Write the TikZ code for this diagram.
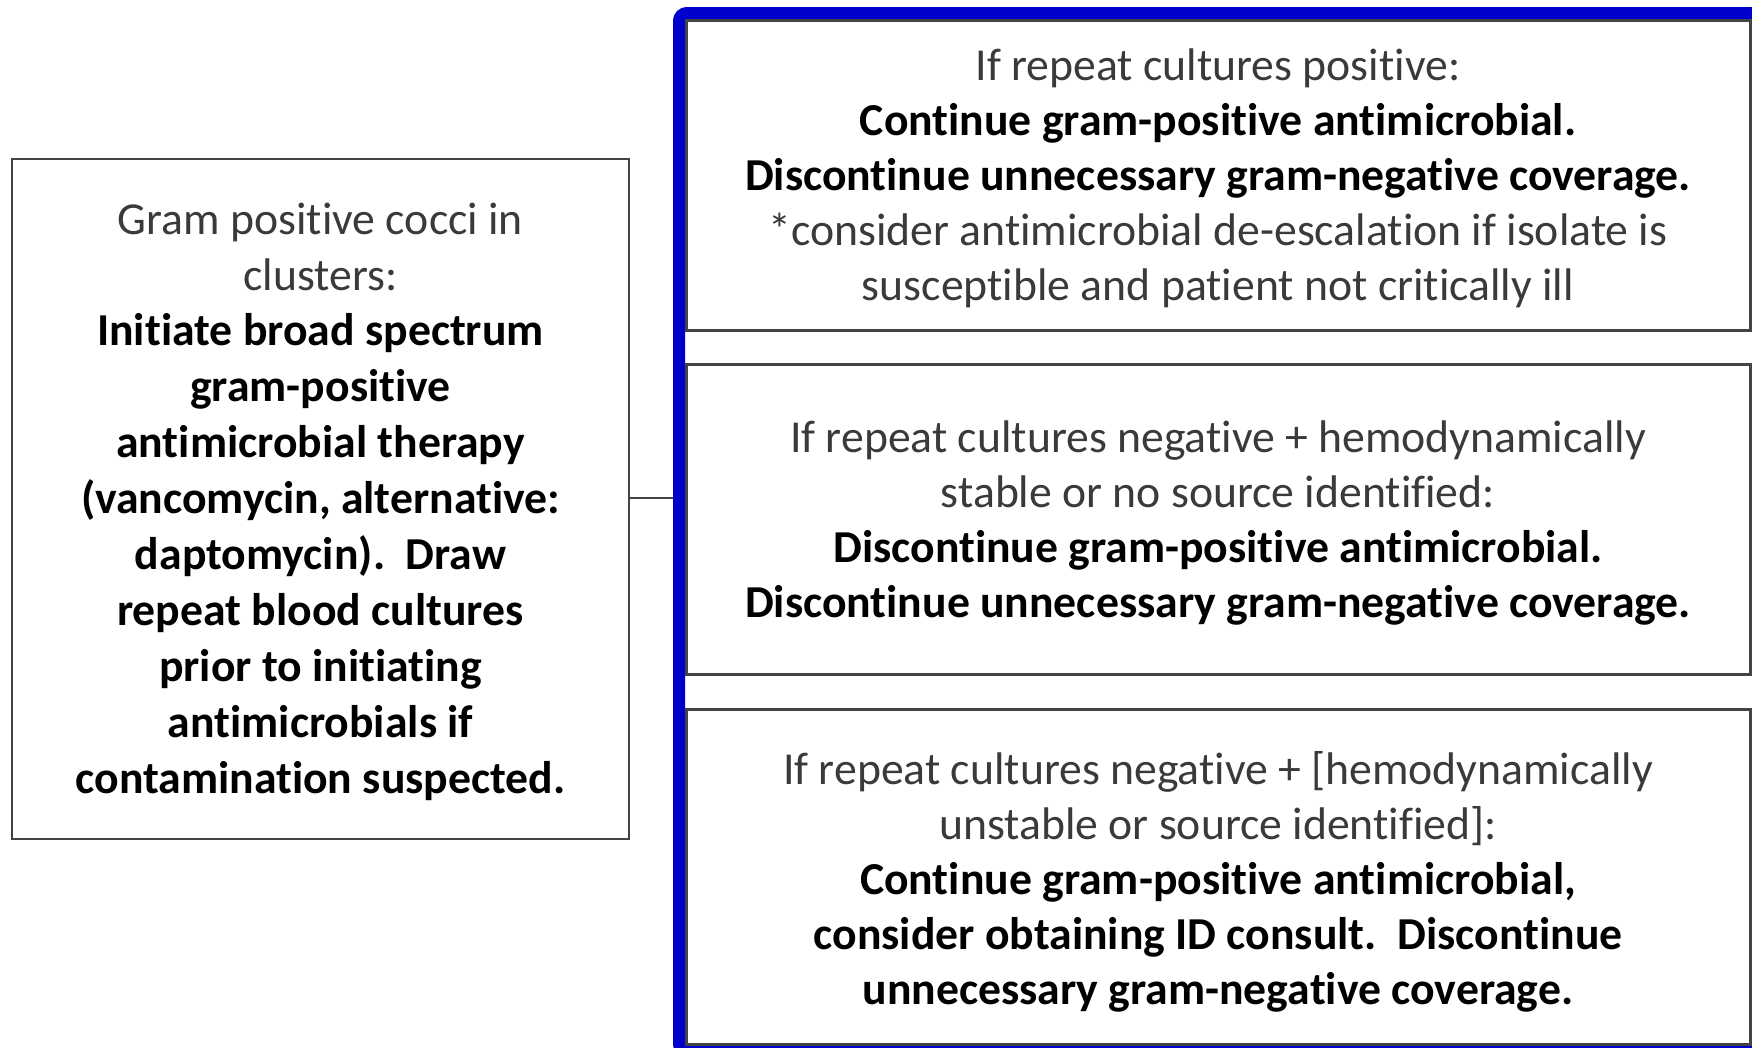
\documentclass[tikz,border=0pt]{standalone}
\usepackage{fontspec}
\setmainfont{Carlito}[Ligatures=NoCommon]
\definecolor{frameblue}{HTML}{0000CC}
\definecolor{boxgray}{HTML}{444444}
\definecolor{txtgray}{HTML}{3A3A3A}
\newcommand\padtop[2]{\raisebox{0pt}[\dimexpr\height+#1\relax]{#2}}
\begin{document}
\begin{tikzpicture}[x=1pt,y=-1pt,
  every node/.style={inner sep=0pt, outer sep=0pt},
  rbox/.style={draw=boxgray, line width=3pt, fill=white, minimum width=1064pt, align=center,
    font=\fontsize{45.7}{55}\selectfont, text=txtgray},
  lbox/.style={draw=boxgray, line width=2.5pt, fill=white, minimum width=617pt, minimum height=680pt,
    align=center, font=\fontsize{45.7}{55.9}\selectfont, text=txtgray}]
\clip (0,0) rectangle (1752,1047);
\fill[white] (0,0) rectangle (1752,1047);
% blue frame
\draw[frameblue, line width=12pt, rounded corners=8pt] (679,13) rectangle (1765,1052);
% left box
\node[lbox] (L) at (320.5,499) {\padtop{5pt}{Gram positive cocci in}\\clusters:\\
\textbf{\color{black}Initiate broad spectrum}\\
\textbf{\color{black}gram-positive}\\
\textbf{\color{black}antimicrobial therapy}\\
\textbf{\color{black}(vancomycin, alternative:}\\
\textbf{\color{black}daptomycin).\ \ Draw}\\
\textbf{\color{black}repeat blood cultures}\\
\textbf{\color{black}prior to initiating}\\
\textbf{\color{black}antimicrobials if}\\
\textbf{\color{black}contamination suspected.}};
% right boxes
\node[rbox, minimum height=310pt] (A) at (1218,175) {\padtop{7pt}{If repeat cultures positive:}\\
\textbf{\color{black}Continue gram-positive antimicrobial.}\\
\textbf{\color{black}Discontinue unnecessary gram-negative coverage.}\\
*consider antimicrobial de-escalation if isolate is\\
susceptible and patient not critically ill};
\node[rbox, minimum height=310pt] (B) at (1218,519) {\padtop{7pt}{If repeat cultures negative + hemodynamically}\\
stable or no source identified:\\
\textbf{\color{black}Discontinue gram-positive antimicrobial.}\\
\textbf{\color{black}Discontinue unnecessary gram-negative coverage.}};
\node[rbox, minimum height=335pt] (C) at (1218,876.5) {\padtop{11pt}{If repeat cultures negative + [hemodynamically}\\
unstable or source identified]:\\
\textbf{\color{black}Continue gram-positive antimicrobial,}\\
\textbf{\color{black}consider obtaining ID consult.\ \ Discontinue}\\
\textbf{\color{black}unnecessary gram-negative coverage.}};
% connector
\coordinate (J) at (673,498);
\draw[boxgray, line width=2pt] (L.east |- J) -- (J);
\end{tikzpicture}
\end{document}
